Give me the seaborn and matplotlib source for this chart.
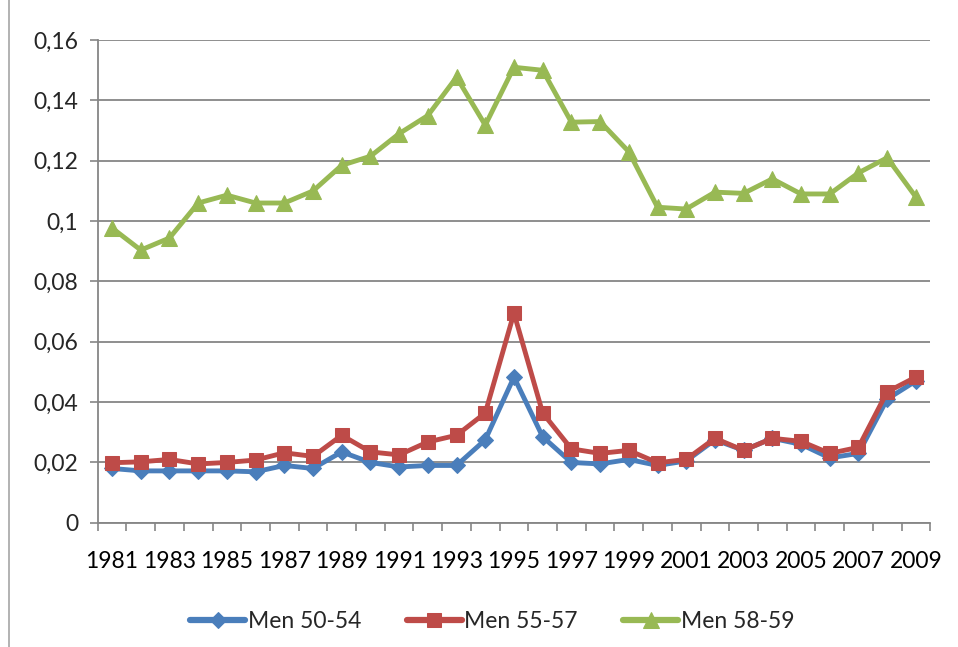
import numpy as np
import pandas as pd
import matplotlib
matplotlib.use("Agg")
import matplotlib.pyplot as plt
import seaborn as sns
from matplotlib.patches import Rectangle

sns.set_theme(style="white")
plt.rcParams['font.family'] = ['Lato', 'DejaVu Sans']

years = list(range(1981, 2010))

men_50_54 = [0.018, 0.0172, 0.0172, 0.0172, 0.0172, 0.0169, 0.019, 0.018, 0.0235, 0.020,
             0.0185, 0.019, 0.019, 0.0275, 0.0483, 0.0285, 0.020, 0.0195, 0.021, 0.019,
             0.0205, 0.0275, 0.024, 0.028, 0.026, 0.0215, 0.023, 0.041, 0.047]
men_55_57 = [0.0199, 0.0202, 0.021, 0.0195, 0.020, 0.0208, 0.0232, 0.022, 0.029, 0.0235,
             0.0225, 0.0268, 0.029, 0.0364, 0.0695, 0.0364, 0.0245, 0.023, 0.024, 0.0199,
             0.021, 0.028, 0.024, 0.028, 0.027, 0.023, 0.025, 0.0434, 0.0483]
men_58_59 = [0.0977, 0.0904, 0.0944, 0.106, 0.1086, 0.106, 0.106, 0.110, 0.1185, 0.1215,
             0.129, 0.135, 0.1477, 0.1318, 0.151, 0.150, 0.1328, 0.133, 0.123, 0.1046,
             0.104, 0.1096, 0.1092, 0.114, 0.109, 0.109, 0.116, 0.121, 0.108]

series = {"Men 50-54": men_50_54, "Men 55-57": men_55_57, "Men 58-59": men_58_59}
colors = {"Men 50-54": "#4A7EBB", "Men 55-57": "#BE4B48", "Men 58-59": "#98B954"}
markers = {"Men 50-54": "D", "Men 55-57": "s", "Men 58-59": "^"}
msizes = {"Men 50-54": 8, "Men 55-57": 10, "Men 58-59": 11}

y_ticks = [0, 0.02, 0.04, 0.06, 0.08, 0.1, 0.12, 0.14, 0.16]
y_labels = ["0", "0,02", "0,04", "0,06", "0,08", "0,1", "0,12", "0,14", "0,16"]

fig = plt.figure(figsize=(9.58, 6.47), dpi=100)
ax = fig.add_axes([0.102, 0.192, 0.869, 0.746])

idx = np.arange(len(years))
for name, vals in series.items():
    sns.lineplot(x=idx, y=vals, ax=ax, color=colors[name], linewidth=3.5,
                 marker=markers[name], markersize=msizes[name],
                 markeredgecolor=colors[name], label=name)

ax.set_xlim(-0.5, len(years) - 0.5)
ax.set_ylim(0, 0.16)
ax.set_yticks(y_ticks)
ax.set_yticklabels(y_labels)
ax.set_xticks(idx[::2])
ax.set_xticklabels([str(y) for y in years[::2]])
ax.set_xticks(np.arange(-0.5, len(years)), minor=True)
ax.tick_params(axis='x', which='major', length=0, pad=20, labelsize=16.5, colors='black')
ax.tick_params(axis='x', which='minor', length=6, width=1.2, color='#868686', direction='out')
ax.tick_params(axis='y', which='major', length=6, width=1.2, color='#868686',
               direction='out', labelsize=16.5, pad=8)
ax.xaxis.set_tick_params(bottom=True, which='both')
ax.yaxis.set_tick_params(left=True)

ax.grid(axis='y', color='#868686', linewidth=1.3)
ax.set_axisbelow(True)
for s in ['top', 'right']:
    ax.spines[s].set_visible(False)
for s in ['left', 'bottom']:
    ax.spines[s].set_color('#868686')
    ax.spines[s].set_linewidth(1.3)
ax.set_xlabel("")
ax.set_ylabel("")

leg = ax.legend(loc='center', bbox_to_anchor=(0.474, -0.205), ncol=3, frameon=False,
                fontsize=16.5, handlelength=2.4, columnspacing=2.0, handletextpad=0.1)
for h in leg.get_lines():
    h.set_linewidth(4.5)

fig.patches.append(Rectangle((0.009, -0.05), 1.2, 1.2, transform=fig.transFigure,
                             fill=False, edgecolor='#A6A6A6', linewidth=1.2))

fig.savefig("out.png", dpi=100)
